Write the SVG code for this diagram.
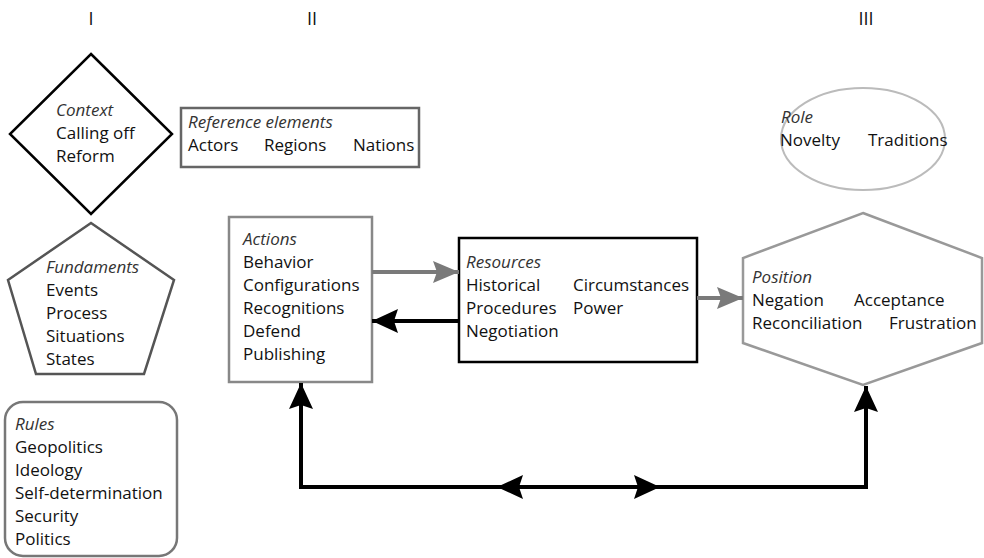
<svg xmlns="http://www.w3.org/2000/svg" width="984" height="558" viewBox="0 0 984 558">
  <style>
    text { font-family: "Open Sans", "Noto Sans", "DejaVu Sans", sans-serif; font-size: 17px; fill: #111; }
    .lbl { font-style: italic; fill: #333; }
    .num { font-size: 18px; text-anchor: middle; }
    .shape { fill: #fff; stroke-width: 2.5; }
    .conn-black { fill: none; stroke: #000; stroke-width: 4; }
    .conn-gray { fill: none; stroke: #7a7a7a; stroke-width: 4; }
  </style>
  <defs>
    <marker id="head-black" markerUnits="userSpaceOnUse" markerWidth="28" markerHeight="26" refX="26" refY="12" orient="auto" overflow="visible">
      <path d="M0,0 L26,12 L0,24 L4,12 z" fill="#000"/>
    </marker>
    <marker id="head-gray" markerUnits="userSpaceOnUse" markerWidth="28" markerHeight="26" refX="26" refY="11" orient="auto" overflow="visible">
      <path d="M0,0 L26,11 L0,22 L4,11 z" fill="#7a7a7a"/>
    </marker>
  </defs>
  <rect width="984" height="558" fill="#fff"/>

  <!-- column headings -->
  <text class="num" x="91" y="25">I</text>
  <text class="num" x="312" y="25">II</text>
  <text class="num" x="866" y="25">III</text>

  <g id="context">
    <polygon class="shape" stroke="#000" points="91,54 172,134 91,214 10,134"/>
    <text class="lbl" x="56" y="116">Context</text>
    <text x="56" y="139">Calling off</text>
    <text x="56" y="162">Reform</text>
  </g>

  <g id="fundaments">
    <polygon class="shape" stroke="#555" points="91,223 174,280 144,374 36,374 8,280"/>
    <text class="lbl" x="46" y="273">Fundaments</text>
    <text x="46" y="296">Events</text>
    <text x="46" y="319">Process</text>
    <text x="46" y="342">Situations</text>
    <text x="46" y="365">States</text>
  </g>

  <g id="rules">
    <rect class="shape" stroke="#777" x="5" y="402" width="172" height="154" rx="18"/>
    <text class="lbl" x="15" y="430">Rules</text>
    <text x="15" y="453">Geopolitics</text>
    <text x="15" y="476">Ideology</text>
    <text x="15" y="499">Self-determination</text>
    <text x="15" y="522">Security</text>
    <text x="15" y="545">Politics</text>
  </g>

  <g id="reference-elements">
    <rect class="shape" stroke="#666" x="181" y="108" width="238" height="59"/>
    <text class="lbl" x="188" y="128">Reference elements</text>
    <text x="188" y="151">Actors</text>
    <text x="264" y="151">Regions</text>
    <text x="353" y="151">Nations</text>
  </g>

  <g id="actions">
    <rect class="shape" stroke="#888" x="229" y="217" width="143" height="165"/>
    <text class="lbl" x="243" y="245">Actions</text>
    <text x="243" y="268">Behavior</text>
    <text x="243" y="291">Configurations</text>
    <text x="243" y="314">Recognitions</text>
    <text x="243" y="337">Defend</text>
    <text x="243" y="360">Publishing</text>
  </g>

  <g id="resources">
    <rect class="shape" stroke="#000" x="459" y="238" width="238" height="124"/>
    <text class="lbl" x="466" y="268">Resources</text>
    <text x="466" y="291">Historical</text>
    <text x="573" y="291">Circumstances</text>
    <text x="466" y="314">Procedures</text>
    <text x="573" y="314">Power</text>
    <text x="466" y="337">Negotiation</text>
  </g>

  <g id="role">
    <ellipse cx="863" cy="139" rx="82" ry="51" fill="#fff" stroke="#bbb" stroke-width="2"/>
    <text class="lbl" x="781" y="123">Role</text>
    <text x="780" y="146">Novelty</text>
    <text x="868" y="146">Traditions</text>
  </g>

  <g id="position">
    <polygon class="shape" stroke="#999" points="863,213 982,258 982,343 863,385 743,343 743,258"/>
    <text class="lbl" x="752" y="283">Position</text>
    <text x="752" y="306">Negation</text>
    <text x="854" y="306">Acceptance</text>
    <text x="752" y="329">Reconciliation</text>
    <text x="889" y="329">Frustration</text>
  </g>

  <g id="connectors">
    <path class="conn-gray" d="M372,272 H459" marker-end="url(#head-gray)"/>
    <path class="conn-black" d="M459,321 H372" marker-end="url(#head-black)"/>
    <path class="conn-gray" d="M697,298 H743" marker-end="url(#head-gray)"/>
    <path class="conn-black" d="M578,487 H301 V383" marker-end="url(#head-black)"/>
    <path class="conn-black" d="M578,487 H866 V386" marker-end="url(#head-black)"/>
    <path class="conn-black" d="M540,487 H497" marker-end="url(#head-black)"/>
    <path class="conn-black" d="M620,487 H660" marker-end="url(#head-black)"/>
  </g>
</svg>
